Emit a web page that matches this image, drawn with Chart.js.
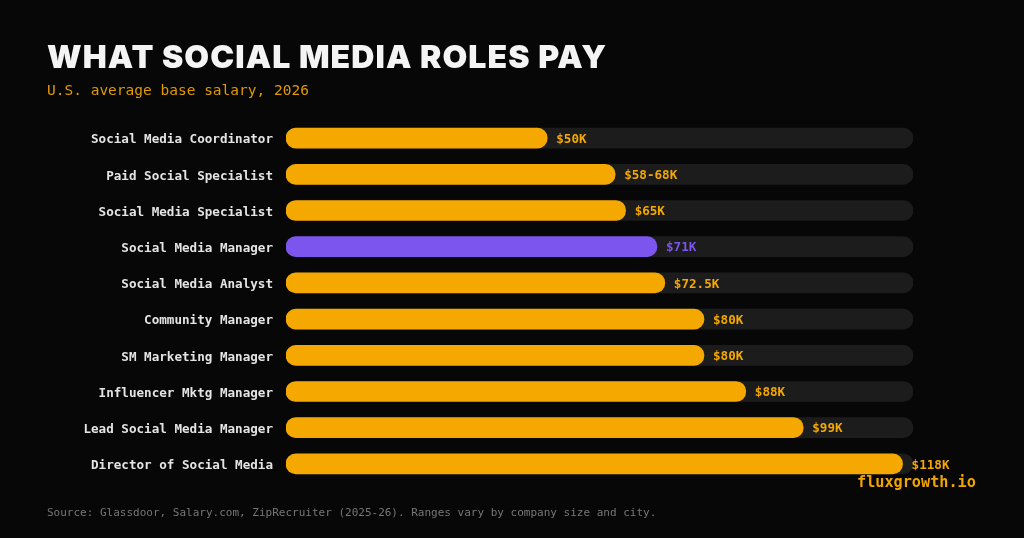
<!DOCTYPE html>
<html lang="en">
<head>
<meta charset="UTF-8">
<title>What social media roles pay</title>
<script src="https://cdn.jsdelivr.net/npm/chart.js@4.4.1/dist/chart.umd.min.js"></script>
<style>
  html, body { margin: 0; padding: 0; background: #070707; }
  #wrap { position: relative; width: 1024px; height: 538px; overflow: hidden; }
  #chart { position: absolute; left: 0; top: 0; }
  .txt { position: absolute; white-space: nowrap; }
  #title { left: 47px; top: 37px; font: 900 32px Inter, sans-serif; color: #f4f4f4; letter-spacing: 1.1px; }
  #sub { left: 47px; top: 82px; font: 14.5px "DejaVu Sans Mono", monospace; color: #e09a00; }
  #src { left: 47px; top: 506px; font: 11px "DejaVu Sans Mono", monospace; color: #777; }
  #brand { left: 857px; top: 473px; font: bold 15.2px "DejaVu Sans Mono", monospace; color: #f0a500; }
</style>
</head>
<body>
<div id="wrap">
  <canvas id="chart" width="1024" height="538"></canvas>
  <div class="txt" id="title">WHAT SOCIAL MEDIA ROLES PAY</div>
  <div class="txt" id="sub">U.S. average base salary, 2026</div>
  <div class="txt" id="src">Source: Glassdoor, Salary.com, ZipRecruiter (2025-26). Ranges vary by company size and city.</div>
  <div class="txt" id="brand">fluxgrowth.io</div>
</div>
<script>
// salary data, thousands of USD
const roles = ['Social Media Coordinator', 'Paid Social Specialist', 'Social Media Specialist',
  'Social Media Manager', 'Social Media Analyst', 'Community Manager', 'SM Marketing Manager',
  'Influencer Mktg Manager', 'Lead Social Media Manager', 'Director of Social Media']
const salary = [50, 63, 65, 71, 72.5, 80, 80, 88, 99, 118]
const salaryLabels = ['$50K', '$58-68K', '$65K', '$71K', '$72.5K', '$80K', '$80K', '$88K', '$99K', '$118K']
const highlight = 'Social Media Manager'
const axisMax = 120

const ORANGE = '#f5a800'
const PURPLE = '#7b55ee'
const barColors = roles.map(r => r === highlight ? PURPLE : ORANGE)

// draws the value text right after each bar
const valueLabels = {
  id: 'valueLabels',
  afterDatasetsDraw(chart) {
    const ctx = chart.ctx
    const meta = chart.getDatasetMeta(0)
    ctx.save()
    ctx.font = 'bold 12.6px "DejaVu Sans Mono", monospace'
    ctx.textBaseline = 'middle'
    meta.data.forEach((bar, i) => {
      ctx.fillStyle = barColors[i]
      ctx.fillText(salaryLabels[i], bar.x + 9, bar.y + 1.5)
    })
    ctx.restore()
  }
}

new Chart(document.getElementById('chart'), {
  type: 'bar',
  data: {
    labels: roles,
    datasets: [{
      data: salary,
      backgroundColor: barColors,
      borderRadius: 10,
      borderSkipped: false,
      barThickness: 20,
      grouped: false,
      order: 0
    }, {
      data: roles.map(() => axisMax),
      backgroundColor: '#1c1c1c',
      borderRadius: 10,
      borderSkipped: false,
      barThickness: 20,
      grouped: false,
      order: 1
    }]
  },
  options: {
    indexAxis: 'y',
    responsive: false,
    animation: false,
    layout: { padding: { left: 0, right: 111, top: 120, bottom: 56 } },
    plugins: { legend: { display: false }, tooltip: { enabled: false } },
    scales: {
      x: { display: false, min: 0, max: axisMax },
      y: {
        grid: { display: false, drawTicks: false },
        border: { display: false },
        afterFit(scale) { scale.width = 286 },
        ticks: {
          padding: 13,
          labelOffset: 2,
          color: '#e4e4e4',
          font: { family: '"DejaVu Sans Mono", monospace', size: 12.6, weight: 'bold' }
        }
      }
    }
  },
  plugins: [valueLabels]
})
</script>
</body>
</html>
